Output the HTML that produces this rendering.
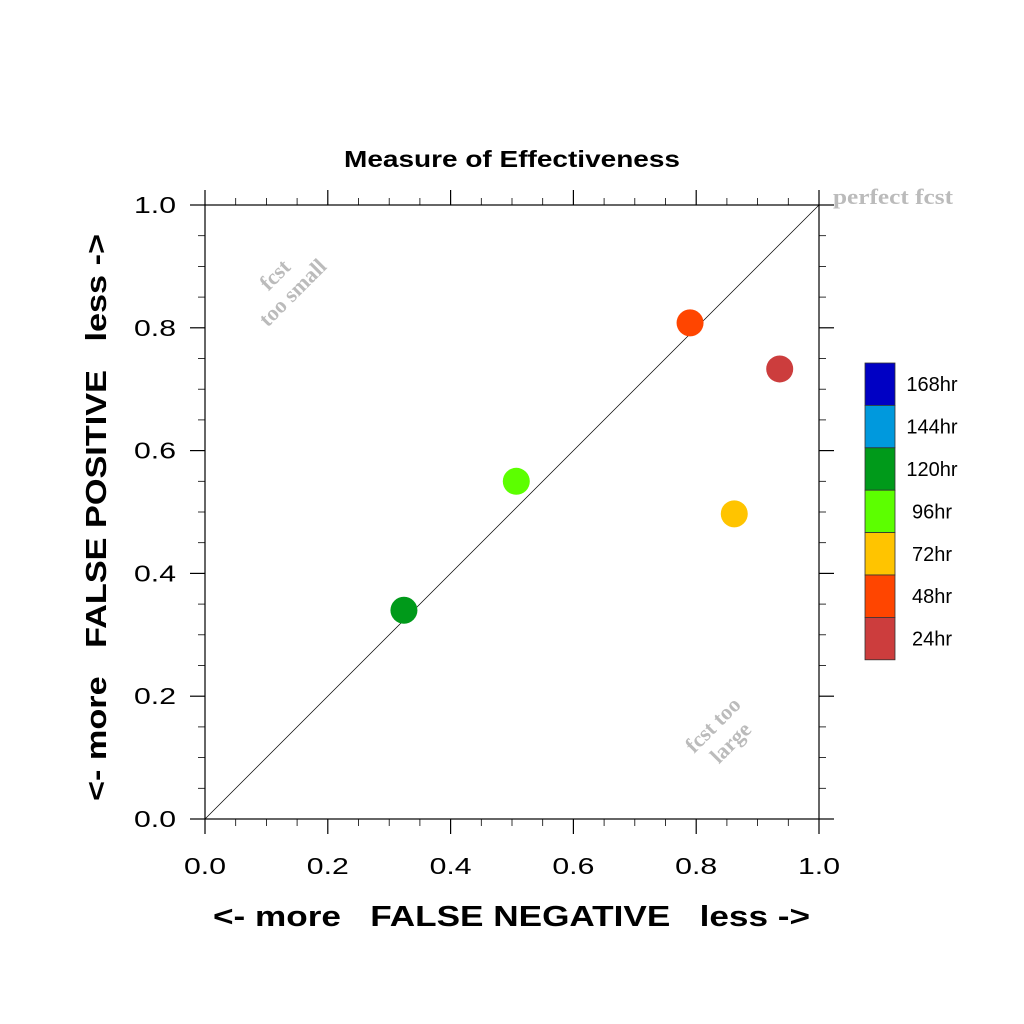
<!DOCTYPE html>
<html><head><meta charset="utf-8"><style>body{margin:0;background:#fff}svg{display:block}text{white-space:pre}</style></head>
<body>
<svg id="c" width="1024" height="1024" xmlns="http://www.w3.org/2000/svg" font-family="Liberation Sans, sans-serif">
<rect width="1024" height="1024" fill="#fff"/>
<g id="axes"></g>
<g id="marks"></g>
<g id="legend"></g>
</svg>
<script>
const labels = ["24hr","48hr","72hr","96hr","120hr"];
const xVals = [0.936,0.790,0.862,0.507,0.324];
const yVals = [0.733,0.808,0.497,0.550,0.340];
const colors = ["#cc3d3d","#ff4500","#ffc400","#5cff00","#009a1a"];
const tickVals = [0,0.2,0.4,0.6,0.8,1.0];
const tickLabels = ["0.0","0.2","0.4","0.6","0.8","1.0"];
const legendLabels = ["168hr","144hr","120hr","96hr","72hr","48hr","24hr"];
const legendColors = ["#0000c4","#0099dd","#009a1a","#5cff00","#ffc400","#ff4500","#cc3d3d"];

const NS="http://www.w3.org/2000/svg";
const L=205,R=819,T=205,B=819;
const sx=v=>L+v*(R-L), sy=v=>B-v*(B-T);
function mk(p,tag,at,txt){const e=document.createElementNS(NS,tag);for(const k in at)e.setAttribute(k,at[k]);if(txt!=null)e.textContent=txt;p.appendChild(e);return e;}
const ax=document.getElementById('axes');
const frame=mk(ax,'rect',{x:L,y:T,width:R-L,height:B-T,fill:'none',stroke:'#000','stroke-width':1.2});


for(let i=0;i<=20;i++){const v=i/20,maj=i%4==0,len=maj?15:7,w=maj?1.2:0.8;
 mk(ax,'line',{x1:sx(v),x2:sx(v),y1:B,y2:B+len,stroke:'#000','stroke-width':w});
 mk(ax,'line',{x1:sx(v),x2:sx(v),y1:T,y2:T-len,stroke:'#000','stroke-width':w});
 mk(ax,'line',{y1:sy(v),y2:sy(v),x1:L,x2:L-len,stroke:'#000','stroke-width':w});
 mk(ax,'line',{y1:sy(v),y2:sy(v),x1:R,x2:R+len,stroke:'#000','stroke-width':w});}
tickVals.forEach((v,i)=>{
 const a=mk(ax,'text',{x:sx(v),y:B+55,'font-size':23,'text-anchor':'middle',textLength:42,lengthAdjust:'spacingAndGlyphs'},tickLabels[i]);
 
 const b=mk(ax,'text',{x:L-29,y:sy(v)+8,'font-size':23,'text-anchor':'end',textLength:42,lengthAdjust:'spacingAndGlyphs'},tickLabels[i]);
 });
const diag=mk(ax,'line',{x1:sx(0),y1:sy(0),x2:sx(1),y2:sy(1),stroke:'#000','stroke-width':0.7});

let t=mk(ax,'text',{x:344,y:167,'font-size':23,'font-weight':'bold',textLength:336,lengthAdjust:'spacingAndGlyphs'},'Measure of Effectiveness');

t=mk(ax,'text',{x:213,y:926,'font-size':29,'font-weight':'bold',textLength:597,lengthAdjust:'spacingAndGlyphs'},'<- more   FALSE NEGATIVE   less ->');

t=mk(ax,'text',{x:0,y:0,'font-size':29,'font-weight':'bold',textLength:567,lengthAdjust:'spacingAndGlyphs',transform:'translate(106,801) rotate(-90)'},'<- more   FALSE POSITIVE   less ->');

const ann=(x,y,lines,name)=>{const g=mk(ax,'text',{x:0,y:0,'font-size':22,'font-weight':'bold','font-family':'Liberation Serif, serif',fill:'#bbb','text-anchor':'middle',transform:`translate(${x},${y}) rotate(-45)`});
 
 lines.forEach((s,i)=>mk(g,'tspan',{x:0,dy:i?25:0},s));};
ann(280,280,['fcst','too small'],'fcst-too-small-note');
ann(718,730,['fcst too','large'],'fcst-too-large-note');
t=mk(ax,'text',{x:833,y:204,'font-size':22,'font-weight':'bold','font-family':'Liberation Serif, serif',fill:'#bbb',textLength:120,lengthAdjust:'spacingAndGlyphs'},'perfect fcst');

const mg=document.getElementById('marks');
labels.forEach((l,i)=>{const c=mk(mg,'circle',{cx:sx(xVals[i]),cy:sy(yVals[i]),r:13.5,fill:colors[i]});
 });
const lg=document.getElementById('legend');
const bh=42.4;
legendLabels.forEach((l,i)=>{const y=363+i*bh;
 const r=mk(lg,'rect',{x:865,y:y,width:30,height:bh,fill:legendColors[i],stroke:'#333','stroke-width':0.8});
 
 const tx=mk(lg,'text',{x:932,y:y+bh/2+7,'font-size':20,'text-anchor':'middle'},l);
 });
</script>
</body></html>
